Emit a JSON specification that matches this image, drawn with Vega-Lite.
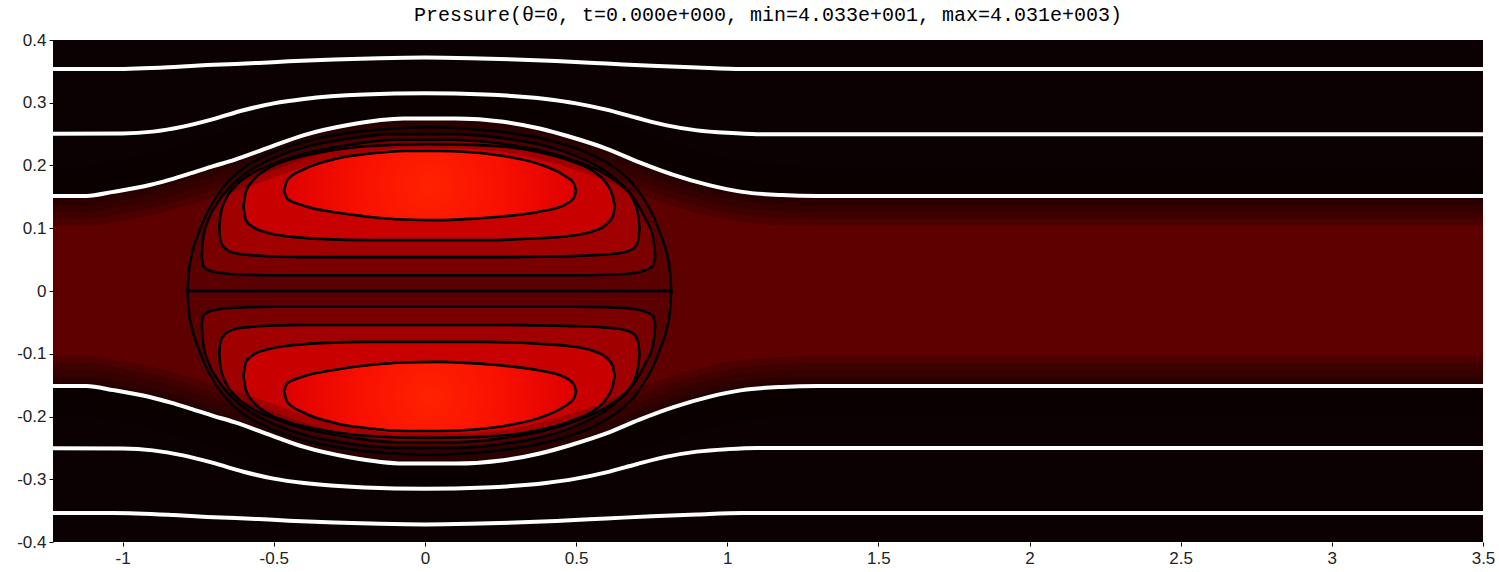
{
 "$schema": "https://vega.github.io/schema/vega-lite/v6.json",
 "width": 1430, "height": 502,
 "autosize": {"type": "none"},
 "padding": {"left": 53, "top": 40, "right": 16, "bottom": 30},
 "background": "white",
 "title": {"text": "Pressure(θ=0, t=0.000e+000, min=4.033e+001, max=4.031e+003)", "font": "Liberation Mono", "fontSize": 20, "fontWeight": "normal", "color": "#000", "offset": 6, "anchor": "middle"},
 "config": {
  "view": {"fill": "#0b0002", "stroke": null},
  "axis": {"grid": false, "domain": false, "ticks": true, "tickColor": "#000", "tickSize": 4, "labelFont": "Liberation Sans", "labelFontSize": 17, "labelColor": "#222"}
 },
 "datasets": {
  "band": [
   {"x": -1.4, "t": 0.1512, "b": -0.1512}, {"x": -1.12, "t": 0.1515, "b": -0.1515}, {"x": -1.03, "t": 0.158, "b": -0.158},
   {"x": -0.91, "t": 0.169, "b": -0.169}, {"x": -0.84, "t": 0.178, "b": -0.178}, {"x": -0.776, "t": 0.1874, "b": -0.1874},
   {"x": -0.7, "t": 0.199, "b": -0.199}, {"x": -0.63, "t": 0.209, "b": -0.209}, {"x": -0.52, "t": 0.228, "b": -0.228},
   {"x": -0.4, "t": 0.2485, "b": -0.2485}, {"x": -0.25, "t": 0.265, "b": -0.265}, {"x": -0.07, "t": 0.275, "b": -0.275},
   {"x": 0.1, "t": 0.275, "b": -0.275}, {"x": 0.26, "t": 0.2697, "b": -0.2697}, {"x": 0.38, "t": 0.259, "b": -0.259},
   {"x": 0.48, "t": 0.2458, "b": -0.2458}, {"x": 0.6, "t": 0.227, "b": -0.227}, {"x": 0.71, "t": 0.205, "b": -0.205},
   {"x": 0.82, "t": 0.1855, "b": -0.1855}, {"x": 0.94, "t": 0.1687, "b": -0.1687}, {"x": 1.05, "t": 0.158, "b": -0.158},
   {"x": 1.18, "t": 0.1528, "b": -0.1528}, {"x": 1.3, "t": 0.1512, "b": -0.1512}, {"x": 3.7, "t": 0.1512, "b": -0.1512}
  ],
  "stream": [
   {"id": "u1", "x": -1.4, "y": 0.3537}, {"id": "u1", "x": -1.03, "y": 0.3537}, {"id": "u1", "x": -0.83, "y": 0.357}, {"id": "u1", "x": -0.72, "y": 0.36},
   {"id": "u1", "x": -0.55, "y": 0.3635}, {"id": "u1", "x": -0.45, "y": 0.366}, {"id": "u1", "x": -0.3, "y": 0.369}, {"id": "u1", "x": -0.15, "y": 0.371},
   {"id": "u1", "x": 0, "y": 0.372}, {"id": "u1", "x": 0.15, "y": 0.371}, {"id": "u1", "x": 0.3, "y": 0.369}, {"id": "u1", "x": 0.45, "y": 0.366},
   {"id": "u1", "x": 0.6, "y": 0.3625}, {"id": "u1", "x": 0.75, "y": 0.359}, {"id": "u1", "x": 0.9, "y": 0.356}, {"id": "u1", "x": 1.05, "y": 0.3537}, {"id": "u1", "x": 3.7, "y": 0.3537},
   {"id": "u2", "x": -1.4, "y": 0.25}, {"id": "u2", "x": -1.0, "y": 0.251}, {"id": "u2", "x": -0.9, "y": 0.254}, {"id": "u2", "x": -0.8, "y": 0.262},
   {"id": "u2", "x": -0.7, "y": 0.274}, {"id": "u2", "x": -0.6, "y": 0.288}, {"id": "u2", "x": -0.5, "y": 0.299}, {"id": "u2", "x": -0.4, "y": 0.306},
   {"id": "u2", "x": -0.2, "y": 0.313}, {"id": "u2", "x": 0, "y": 0.315}, {"id": "u2", "x": 0.2, "y": 0.313}, {"id": "u2", "x": 0.4, "y": 0.306},
   {"id": "u2", "x": 0.5, "y": 0.299}, {"id": "u2", "x": 0.6, "y": 0.289}, {"id": "u2", "x": 0.7, "y": 0.276}, {"id": "u2", "x": 0.8, "y": 0.264},
   {"id": "u2", "x": 0.9, "y": 0.256}, {"id": "u2", "x": 1.0, "y": 0.252}, {"id": "u2", "x": 1.1, "y": 0.25}, {"id": "u2", "x": 3.7, "y": 0.25},
   {"id": "u3", "x": -1.4, "y": 0.1512}, {"id": "u3", "x": -1.12, "y": 0.1515}, {"id": "u3", "x": -1.03, "y": 0.158}, {"id": "u3", "x": -0.91, "y": 0.169},
   {"id": "u3", "x": -0.84, "y": 0.178}, {"id": "u3", "x": -0.776, "y": 0.1874}, {"id": "u3", "x": -0.7, "y": 0.199}, {"id": "u3", "x": -0.63, "y": 0.209},
   {"id": "u3", "x": -0.52, "y": 0.228}, {"id": "u3", "x": -0.4, "y": 0.2485}, {"id": "u3", "x": -0.25, "y": 0.265}, {"id": "u3", "x": -0.07, "y": 0.275},
   {"id": "u3", "x": 0.1, "y": 0.275}, {"id": "u3", "x": 0.26, "y": 0.2697}, {"id": "u3", "x": 0.38, "y": 0.259}, {"id": "u3", "x": 0.48, "y": 0.2458},
   {"id": "u3", "x": 0.6, "y": 0.227}, {"id": "u3", "x": 0.71, "y": 0.205}, {"id": "u3", "x": 0.82, "y": 0.1855}, {"id": "u3", "x": 0.94, "y": 0.1687},
   {"id": "u3", "x": 1.05, "y": 0.158}, {"id": "u3", "x": 1.18, "y": 0.1528}, {"id": "u3", "x": 1.3, "y": 0.1512}, {"id": "u3", "x": 3.7, "y": 0.1512},
   {"id": "l1", "x": -1.4, "y": -0.3537}, {"id": "l1", "x": -1.03, "y": -0.3537}, {"id": "l1", "x": -0.83, "y": -0.357}, {"id": "l1", "x": -0.72, "y": -0.36},
   {"id": "l1", "x": -0.55, "y": -0.3635}, {"id": "l1", "x": -0.45, "y": -0.366}, {"id": "l1", "x": -0.3, "y": -0.369}, {"id": "l1", "x": -0.15, "y": -0.371},
   {"id": "l1", "x": 0, "y": -0.372}, {"id": "l1", "x": 0.15, "y": -0.371}, {"id": "l1", "x": 0.3, "y": -0.369}, {"id": "l1", "x": 0.45, "y": -0.366},
   {"id": "l1", "x": 0.6, "y": -0.3625}, {"id": "l1", "x": 0.75, "y": -0.359}, {"id": "l1", "x": 0.9, "y": -0.356}, {"id": "l1", "x": 1.05, "y": -0.3537}, {"id": "l1", "x": 3.7, "y": -0.3537},
   {"id": "l2", "x": -1.4, "y": -0.25}, {"id": "l2", "x": -1.0, "y": -0.251}, {"id": "l2", "x": -0.9, "y": -0.254}, {"id": "l2", "x": -0.8, "y": -0.262},
   {"id": "l2", "x": -0.7, "y": -0.274}, {"id": "l2", "x": -0.6, "y": -0.288}, {"id": "l2", "x": -0.5, "y": -0.299}, {"id": "l2", "x": -0.4, "y": -0.306},
   {"id": "l2", "x": -0.2, "y": -0.313}, {"id": "l2", "x": 0, "y": -0.315}, {"id": "l2", "x": 0.2, "y": -0.313}, {"id": "l2", "x": 0.4, "y": -0.306},
   {"id": "l2", "x": 0.5, "y": -0.299}, {"id": "l2", "x": 0.6, "y": -0.289}, {"id": "l2", "x": 0.7, "y": -0.276}, {"id": "l2", "x": 0.8, "y": -0.264},
   {"id": "l2", "x": 0.9, "y": -0.256}, {"id": "l2", "x": 1.0, "y": -0.252}, {"id": "l2", "x": 1.1, "y": -0.25}, {"id": "l2", "x": 3.7, "y": -0.25},
   {"id": "l3", "x": -1.4, "y": -0.1512}, {"id": "l3", "x": -1.12, "y": -0.1515}, {"id": "l3", "x": -1.03, "y": -0.158}, {"id": "l3", "x": -0.91, "y": -0.169},
   {"id": "l3", "x": -0.84, "y": -0.178}, {"id": "l3", "x": -0.776, "y": -0.1874}, {"id": "l3", "x": -0.7, "y": -0.199}, {"id": "l3", "x": -0.63, "y": -0.209},
   {"id": "l3", "x": -0.52, "y": -0.228}, {"id": "l3", "x": -0.4, "y": -0.2485}, {"id": "l3", "x": -0.25, "y": -0.265}, {"id": "l3", "x": -0.07, "y": -0.275},
   {"id": "l3", "x": 0.1, "y": -0.275}, {"id": "l3", "x": 0.26, "y": -0.2697}, {"id": "l3", "x": 0.38, "y": -0.259}, {"id": "l3", "x": 0.48, "y": -0.2458},
   {"id": "l3", "x": 0.6, "y": -0.227}, {"id": "l3", "x": 0.71, "y": -0.205}, {"id": "l3", "x": 0.82, "y": -0.1855}, {"id": "l3", "x": 0.94, "y": -0.1687},
   {"id": "l3", "x": 1.05, "y": -0.158}, {"id": "l3", "x": 1.18, "y": -0.1528}, {"id": "l3", "x": 1.3, "y": -0.1512}, {"id": "l3", "x": 3.7, "y": -0.1512}
  ],
  "drop": [
   {"lev": 0, "h": "U", "x": -0.785, "t": 0, "b": 0}, {"lev": 0, "h": "U", "x": -0.781, "t": 0.03, "b": 0}, {"lev": 0, "h": "U", "x": -0.77, "t": 0.06, "b": 0},
   {"lev": 0, "h": "U", "x": -0.75, "t": 0.09, "b": 0}, {"lev": 0, "h": "U", "x": -0.725, "t": 0.12, "b": 0}, {"lev": 0, "h": "U", "x": -0.69, "t": 0.15, "b": 0},
   {"lev": 0, "h": "U", "x": -0.65, "t": 0.175, "b": 0}, {"lev": 0, "h": "U", "x": -0.6, "t": 0.196, "b": 0}, {"lev": 0, "h": "U", "x": -0.5, "t": 0.222, "b": 0},
   {"lev": 0, "h": "U", "x": -0.4, "t": 0.238, "b": 0}, {"lev": 0, "h": "U", "x": -0.25, "t": 0.252, "b": 0}, {"lev": 0, "h": "U", "x": -0.1, "t": 0.259, "b": 0},
   {"lev": 0, "h": "U", "x": 0.015, "t": 0.261, "b": 0}, {"lev": 0, "h": "U", "x": 0.13, "t": 0.259, "b": 0}, {"lev": 0, "h": "U", "x": 0.28, "t": 0.252, "b": 0},
   {"lev": 0, "h": "U", "x": 0.43, "t": 0.238, "b": 0}, {"lev": 0, "h": "U", "x": 0.53, "t": 0.222, "b": 0}, {"lev": 0, "h": "U", "x": 0.63, "t": 0.196, "b": 0},
   {"lev": 0, "h": "U", "x": 0.68, "t": 0.175, "b": 0}, {"lev": 0, "h": "U", "x": 0.72, "t": 0.15, "b": 0}, {"lev": 0, "h": "U", "x": 0.755, "t": 0.12, "b": 0},
   {"lev": 0, "h": "U", "x": 0.78, "t": 0.09, "b": 0}, {"lev": 0, "h": "U", "x": 0.8, "t": 0.06, "b": 0}, {"lev": 0, "h": "U", "x": 0.811, "t": 0.03, "b": 0},
   {"lev": 0, "h": "U", "x": 0.815, "t": 0, "b": 0},
   {"lev": 0, "h": "L", "x": -0.785, "t": 0, "b": 0}, {"lev": 0, "h": "L", "x": -0.781, "t": 0, "b": -0.03}, {"lev": 0, "h": "L", "x": -0.77, "t": 0, "b": -0.06},
   {"lev": 0, "h": "L", "x": -0.75, "t": 0, "b": -0.09}, {"lev": 0, "h": "L", "x": -0.725, "t": 0, "b": -0.12}, {"lev": 0, "h": "L", "x": -0.69, "t": 0, "b": -0.15},
   {"lev": 0, "h": "L", "x": -0.65, "t": 0, "b": -0.175}, {"lev": 0, "h": "L", "x": -0.6, "t": 0, "b": -0.196}, {"lev": 0, "h": "L", "x": -0.5, "t": 0, "b": -0.222},
   {"lev": 0, "h": "L", "x": -0.4, "t": 0, "b": -0.238}, {"lev": 0, "h": "L", "x": -0.25, "t": 0, "b": -0.252}, {"lev": 0, "h": "L", "x": -0.1, "t": 0, "b": -0.259},
   {"lev": 0, "h": "L", "x": 0.015, "t": 0, "b": -0.261}, {"lev": 0, "h": "L", "x": 0.13, "t": 0, "b": -0.259}, {"lev": 0, "h": "L", "x": 0.28, "t": 0, "b": -0.252},
   {"lev": 0, "h": "L", "x": 0.43, "t": 0, "b": -0.238}, {"lev": 0, "h": "L", "x": 0.53, "t": 0, "b": -0.222}, {"lev": 0, "h": "L", "x": 0.63, "t": 0, "b": -0.196},
   {"lev": 0, "h": "L", "x": 0.68, "t": 0, "b": -0.175}, {"lev": 0, "h": "L", "x": 0.72, "t": 0, "b": -0.15}, {"lev": 0, "h": "L", "x": 0.755, "t": 0, "b": -0.12},
   {"lev": 0, "h": "L", "x": 0.78, "t": 0, "b": -0.09}, {"lev": 0, "h": "L", "x": 0.8, "t": 0, "b": -0.06}, {"lev": 0, "h": "L", "x": 0.811, "t": 0, "b": -0.03},
   {"lev": 0, "h": "L", "x": 0.815, "t": 0, "b": 0},

   {"lev": 4, "h": "U", "x": -0.738, "t": 0.055, "b": 0.055}, {"lev": 4, "h": "U", "x": -0.733, "t": 0.085, "b": 0.04}, {"lev": 4, "h": "U", "x": -0.715, "t": 0.115, "b": 0.033},
   {"lev": 4, "h": "U", "x": -0.68, "t": 0.145, "b": 0.029}, {"lev": 4, "h": "U", "x": -0.64, "t": 0.168, "b": 0.027}, {"lev": 4, "h": "U", "x": -0.585, "t": 0.19, "b": 0.026},
   {"lev": 4, "h": "U", "x": -0.5, "t": 0.212, "b": 0.025}, {"lev": 4, "h": "U", "x": -0.4, "t": 0.229, "b": 0.025}, {"lev": 4, "h": "U", "x": -0.25, "t": 0.243, "b": 0.025},
   {"lev": 4, "h": "U", "x": -0.1, "t": 0.25, "b": 0.025}, {"lev": 4, "h": "U", "x": 0.1, "t": 0.25, "b": 0.025}, {"lev": 4, "h": "U", "x": 0.25, "t": 0.244, "b": 0.025},
   {"lev": 4, "h": "U", "x": 0.4, "t": 0.231, "b": 0.025}, {"lev": 4, "h": "U", "x": 0.5, "t": 0.215, "b": 0.025}, {"lev": 4, "h": "U", "x": 0.6, "t": 0.19, "b": 0.026},
   {"lev": 4, "h": "U", "x": 0.655, "t": 0.168, "b": 0.027}, {"lev": 4, "h": "U", "x": 0.695, "t": 0.145, "b": 0.029}, {"lev": 4, "h": "U", "x": 0.73, "t": 0.115, "b": 0.033},
   {"lev": 4, "h": "U", "x": 0.755, "t": 0.085, "b": 0.04}, {"lev": 4, "h": "U", "x": 0.762, "t": 0.055, "b": 0.055},
   {"lev": 4, "h": "L", "x": -0.738, "t": -0.055, "b": -0.055}, {"lev": 4, "h": "L", "x": -0.733, "t": -0.04, "b": -0.085}, {"lev": 4, "h": "L", "x": -0.715, "t": -0.033, "b": -0.115},
   {"lev": 4, "h": "L", "x": -0.68, "t": -0.029, "b": -0.145}, {"lev": 4, "h": "L", "x": -0.64, "t": -0.027, "b": -0.168}, {"lev": 4, "h": "L", "x": -0.585, "t": -0.026, "b": -0.19},
   {"lev": 4, "h": "L", "x": -0.5, "t": -0.025, "b": -0.212}, {"lev": 4, "h": "L", "x": -0.4, "t": -0.025, "b": -0.229}, {"lev": 4, "h": "L", "x": -0.25, "t": -0.025, "b": -0.243},
   {"lev": 4, "h": "L", "x": -0.1, "t": -0.025, "b": -0.25}, {"lev": 4, "h": "L", "x": 0.1, "t": -0.025, "b": -0.25}, {"lev": 4, "h": "L", "x": 0.25, "t": -0.025, "b": -0.244},
   {"lev": 4, "h": "L", "x": 0.4, "t": -0.025, "b": -0.231}, {"lev": 4, "h": "L", "x": 0.5, "t": -0.025, "b": -0.215}, {"lev": 4, "h": "L", "x": 0.6, "t": -0.026, "b": -0.19},
   {"lev": 4, "h": "L", "x": 0.655, "t": -0.027, "b": -0.168}, {"lev": 4, "h": "L", "x": 0.695, "t": -0.029, "b": -0.145}, {"lev": 4, "h": "L", "x": 0.73, "t": -0.033, "b": -0.115},
   {"lev": 4, "h": "L", "x": 0.755, "t": -0.04, "b": -0.085}, {"lev": 4, "h": "L", "x": 0.762, "t": -0.055, "b": -0.055},

   {"lev": 3, "h": "U", "x": -0.68, "t": 0.1, "b": 0.1}, {"lev": 3, "h": "U", "x": -0.676, "t": 0.122, "b": 0.08}, {"lev": 3, "h": "U", "x": -0.66, "t": 0.145, "b": 0.068},
   {"lev": 3, "h": "U", "x": -0.625, "t": 0.168, "b": 0.06}, {"lev": 3, "h": "U", "x": -0.57, "t": 0.188, "b": 0.057}, {"lev": 3, "h": "U", "x": -0.5, "t": 0.203, "b": 0.055},
   {"lev": 3, "h": "U", "x": -0.4, "t": 0.219, "b": 0.054}, {"lev": 3, "h": "U", "x": -0.25, "t": 0.233, "b": 0.054}, {"lev": 3, "h": "U", "x": -0.1, "t": 0.241, "b": 0.054},
   {"lev": 3, "h": "U", "x": 0.1, "t": 0.241, "b": 0.054}, {"lev": 3, "h": "U", "x": 0.25, "t": 0.235, "b": 0.054}, {"lev": 3, "h": "U", "x": 0.4, "t": 0.222, "b": 0.055},
   {"lev": 3, "h": "U", "x": 0.5, "t": 0.207, "b": 0.056}, {"lev": 3, "h": "U", "x": 0.59, "t": 0.188, "b": 0.058}, {"lev": 3, "h": "U", "x": 0.65, "t": 0.168, "b": 0.061},
   {"lev": 3, "h": "U", "x": 0.69, "t": 0.145, "b": 0.068}, {"lev": 3, "h": "U", "x": 0.705, "t": 0.122, "b": 0.08}, {"lev": 3, "h": "U", "x": 0.71, "t": 0.1, "b": 0.1},
   {"lev": 3, "h": "L", "x": -0.68, "t": -0.1, "b": -0.1}, {"lev": 3, "h": "L", "x": -0.676, "t": -0.08, "b": -0.122}, {"lev": 3, "h": "L", "x": -0.66, "t": -0.068, "b": -0.145},
   {"lev": 3, "h": "L", "x": -0.625, "t": -0.06, "b": -0.168}, {"lev": 3, "h": "L", "x": -0.57, "t": -0.057, "b": -0.188}, {"lev": 3, "h": "L", "x": -0.5, "t": -0.055, "b": -0.203},
   {"lev": 3, "h": "L", "x": -0.4, "t": -0.054, "b": -0.219}, {"lev": 3, "h": "L", "x": -0.25, "t": -0.054, "b": -0.233}, {"lev": 3, "h": "L", "x": -0.1, "t": -0.054, "b": -0.241},
   {"lev": 3, "h": "L", "x": 0.1, "t": -0.054, "b": -0.241}, {"lev": 3, "h": "L", "x": 0.25, "t": -0.054, "b": -0.235}, {"lev": 3, "h": "L", "x": 0.4, "t": -0.055, "b": -0.222},
   {"lev": 3, "h": "L", "x": 0.5, "t": -0.056, "b": -0.207}, {"lev": 3, "h": "L", "x": 0.59, "t": -0.058, "b": -0.188}, {"lev": 3, "h": "L", "x": 0.65, "t": -0.061, "b": -0.168},
   {"lev": 3, "h": "L", "x": 0.69, "t": -0.068, "b": -0.145}, {"lev": 3, "h": "L", "x": 0.705, "t": -0.08, "b": -0.122}, {"lev": 3, "h": "L", "x": 0.71, "t": -0.1, "b": -0.1},

   {"lev": 2, "h": "U", "x": -0.6, "t": 0.135, "b": 0.135}, {"lev": 2, "h": "U", "x": -0.592, "t": 0.158, "b": 0.113}, {"lev": 2, "h": "U", "x": -0.565, "t": 0.178, "b": 0.101},
   {"lev": 2, "h": "U", "x": -0.52, "t": 0.195, "b": 0.093}, {"lev": 2, "h": "U", "x": -0.45, "t": 0.209, "b": 0.087}, {"lev": 2, "h": "U", "x": -0.345, "t": 0.221, "b": 0.083},
   {"lev": 2, "h": "U", "x": -0.18, "t": 0.231, "b": 0.081}, {"lev": 2, "h": "U", "x": 0, "t": 0.234, "b": 0.081}, {"lev": 2, "h": "U", "x": 0.2, "t": 0.232, "b": 0.081},
   {"lev": 2, "h": "U", "x": 0.373, "t": 0.222, "b": 0.084}, {"lev": 2, "h": "U", "x": 0.483, "t": 0.207, "b": 0.088}, {"lev": 2, "h": "U", "x": 0.56, "t": 0.19, "b": 0.096},
   {"lev": 2, "h": "U", "x": 0.6, "t": 0.172, "b": 0.106}, {"lev": 2, "h": "U", "x": 0.622, "t": 0.15, "b": 0.12}, {"lev": 2, "h": "U", "x": 0.628, "t": 0.135, "b": 0.135},
   {"lev": 2, "h": "L", "x": -0.6, "t": -0.135, "b": -0.135}, {"lev": 2, "h": "L", "x": -0.592, "t": -0.113, "b": -0.158}, {"lev": 2, "h": "L", "x": -0.565, "t": -0.101, "b": -0.178},
   {"lev": 2, "h": "L", "x": -0.52, "t": -0.093, "b": -0.195}, {"lev": 2, "h": "L", "x": -0.45, "t": -0.087, "b": -0.209}, {"lev": 2, "h": "L", "x": -0.345, "t": -0.083, "b": -0.221},
   {"lev": 2, "h": "L", "x": -0.18, "t": -0.081, "b": -0.231}, {"lev": 2, "h": "L", "x": 0, "t": -0.081, "b": -0.234}, {"lev": 2, "h": "L", "x": 0.2, "t": -0.081, "b": -0.232},
   {"lev": 2, "h": "L", "x": 0.373, "t": -0.084, "b": -0.222}, {"lev": 2, "h": "L", "x": 0.483, "t": -0.088, "b": -0.207}, {"lev": 2, "h": "L", "x": 0.56, "t": -0.096, "b": -0.19},
   {"lev": 2, "h": "L", "x": 0.6, "t": -0.106, "b": -0.172}, {"lev": 2, "h": "L", "x": 0.622, "t": -0.12, "b": -0.15}, {"lev": 2, "h": "L", "x": 0.628, "t": -0.135, "b": -0.135},

   {"lev": 1, "h": "U", "x": -0.466, "t": 0.16, "b": 0.16}, {"lev": 1, "h": "U", "x": -0.455, "t": 0.177, "b": 0.147}, {"lev": 1, "h": "U", "x": -0.4, "t": 0.194, "b": 0.136},
   {"lev": 1, "h": "U", "x": -0.29, "t": 0.211, "b": 0.125}, {"lev": 1, "h": "U", "x": -0.18, "t": 0.219, "b": 0.118}, {"lev": 1, "h": "U", "x": -0.069, "t": 0.223, "b": 0.114},
   {"lev": 1, "h": "U", "x": 0.041, "t": 0.223, "b": 0.113}, {"lev": 1, "h": "U", "x": 0.152, "t": 0.221, "b": 0.115}, {"lev": 1, "h": "U", "x": 0.262, "t": 0.215, "b": 0.119},
   {"lev": 1, "h": "U", "x": 0.373, "t": 0.203, "b": 0.126}, {"lev": 1, "h": "U", "x": 0.461, "t": 0.184, "b": 0.137}, {"lev": 1, "h": "U", "x": 0.492, "t": 0.172, "b": 0.148},
   {"lev": 1, "h": "U", "x": 0.5, "t": 0.16, "b": 0.16},
   {"lev": 1, "h": "L", "x": -0.466, "t": -0.16, "b": -0.16}, {"lev": 1, "h": "L", "x": -0.455, "t": -0.147, "b": -0.177}, {"lev": 1, "h": "L", "x": -0.4, "t": -0.136, "b": -0.194},
   {"lev": 1, "h": "L", "x": -0.29, "t": -0.125, "b": -0.211}, {"lev": 1, "h": "L", "x": -0.18, "t": -0.118, "b": -0.219}, {"lev": 1, "h": "L", "x": -0.069, "t": -0.114, "b": -0.223},
   {"lev": 1, "h": "L", "x": 0.041, "t": -0.113, "b": -0.223}, {"lev": 1, "h": "L", "x": 0.152, "t": -0.115, "b": -0.221}, {"lev": 1, "h": "L", "x": 0.262, "t": -0.119, "b": -0.215},
   {"lev": 1, "h": "L", "x": 0.373, "t": -0.126, "b": -0.203}, {"lev": 1, "h": "L", "x": 0.461, "t": -0.137, "b": -0.184}, {"lev": 1, "h": "L", "x": 0.492, "t": -0.148, "b": -0.172},
   {"lev": 1, "h": "L", "x": 0.5, "t": -0.16, "b": -0.16}
  ]
 },
 "layer": [
  {"data": {"name": "band"}, "mark": {"type": "area", "fill": "#5e0000", "interpolate": "monotone", "clip": true},
   "encoding": {
    "x": {"field": "x", "type": "quantitative", "title": null, "scale": {"domain": [-1.23, 3.5], "nice": false, "zero": false},
          "axis": {"values": [-1, -0.5, 0, 0.5, 1, 1.5, 2, 2.5, 3, 3.5], "labelExpr": "toString(round(datum.value*10)/10)", "labelPadding": 4, "labelFlush": false}},
    "y": {"field": "t", "type": "quantitative", "title": null, "stack": null, "scale": {"domain": [-0.4, 0.4], "nice": false, "zero": false},
          "axis": {"values": [-0.4, -0.3, -0.2, -0.1, 0, 0.1, 0.2, 0.3, 0.4], "labelExpr": "toString(round(datum.value*10)/10)", "labelPadding": 3, "labelFlush": false}},
    "y2": {"field": "b"}}},
  {"data": {"name": "drop"}, "transform": [{"filter": "datum.lev == 0"}], "mark": {"type": "area", "fill": "#5a0000", "interpolate": "monotone", "clip": true},
   "encoding": {"x": {"field": "x", "type": "quantitative", "title": null}, "y": {"field": "t", "type": "quantitative", "title": null, "stack": null}, "y2": {"field": "b"}, "detail": {"field": "h"}}},
  {"data": {"name": "drop"}, "transform": [{"filter": "datum.lev == 4"}], "mark": {"type": "area", "fill": "#7a0000", "interpolate": "monotone", "clip": true},
   "encoding": {"x": {"field": "x", "type": "quantitative", "title": null}, "y": {"field": "t", "type": "quantitative", "title": null, "stack": null}, "y2": {"field": "b"}, "detail": {"field": "h"}}},
  {"data": {"name": "drop"}, "transform": [{"filter": "datum.lev == 3"}], "mark": {"type": "area", "fill": "#a00000", "interpolate": "monotone", "clip": true},
   "encoding": {"x": {"field": "x", "type": "quantitative", "title": null}, "y": {"field": "t", "type": "quantitative", "title": null, "stack": null}, "y2": {"field": "b"}, "detail": {"field": "h"}}},
  {"data": {"name": "drop"}, "transform": [{"filter": "datum.lev == 2"}], "mark": {"type": "area", "fill": "#c80000", "interpolate": "monotone", "clip": true},
   "encoding": {"x": {"field": "x", "type": "quantitative", "title": null}, "y": {"field": "t", "type": "quantitative", "title": null, "stack": null}, "y2": {"field": "b"}, "detail": {"field": "h"}}},
  {"data": {"name": "drop"}, "transform": [{"filter": "datum.lev == 1"}],
   "mark": {"type": "area", "interpolate": "monotone", "clip": true,
            "fill": {"gradient": "radial", "x1": 0.5, "y1": 0.5, "r1": 0, "x2": 0.5, "y2": 0.5, "r2": 0.5,
                     "stops": [{"offset": 0, "color": "#ff2200"}, {"offset": 0.5, "color": "#f81000"}, {"offset": 1, "color": "#dd0000"}]}},
   "encoding": {"x": {"field": "x", "type": "quantitative", "title": null}, "y": {"field": "t", "type": "quantitative", "title": null, "stack": null}, "y2": {"field": "b"}, "detail": {"field": "h"}}},

  {"data": {"name": "band"}, "mark": {"type": "area", "fill": "#0b0002", "interpolate": "monotone", "clip": true},
   "encoding": {"x": {"field": "x", "type": "quantitative", "title": null}, "y": {"field": "t", "type": "quantitative", "title": null, "stack": null}, "y2": {"datum": 0.5}}},
  {"data": {"name": "band"}, "mark": {"type": "area", "fill": "#0b0002", "interpolate": "monotone", "clip": true},
   "encoding": {"x": {"field": "x", "type": "quantitative", "title": null}, "y": {"field": "b", "type": "quantitative", "title": null, "stack": null}, "y2": {"datum": -0.5}}},
  {"data": {"name": "band"}, "mark": {"type": "area", "fillOpacity": 0, "stroke": "#0b0002", "strokeOpacity": 0.2, "strokeWidth": 60, "interpolate": "monotone", "clip": true},
   "encoding": {"x": {"field": "x", "type": "quantitative", "title": null}, "y": {"field": "t", "type": "quantitative", "title": null, "stack": null}, "y2": {"datum": 0.5}}},
  {"data": {"name": "band"}, "mark": {"type": "area", "fillOpacity": 0, "stroke": "#0b0002", "strokeOpacity": 0.2, "strokeWidth": 46, "interpolate": "monotone", "clip": true},
   "encoding": {"x": {"field": "x", "type": "quantitative", "title": null}, "y": {"field": "t", "type": "quantitative", "title": null, "stack": null}, "y2": {"datum": 0.5}}},
  {"data": {"name": "band"}, "mark": {"type": "area", "fillOpacity": 0, "stroke": "#0b0002", "strokeOpacity": 0.2, "strokeWidth": 32, "interpolate": "monotone", "clip": true},
   "encoding": {"x": {"field": "x", "type": "quantitative", "title": null}, "y": {"field": "t", "type": "quantitative", "title": null, "stack": null}, "y2": {"datum": 0.5}}},
  {"data": {"name": "band"}, "mark": {"type": "area", "fillOpacity": 0, "stroke": "#0b0002", "strokeOpacity": 0.2, "strokeWidth": 18, "interpolate": "monotone", "clip": true},
   "encoding": {"x": {"field": "x", "type": "quantitative", "title": null}, "y": {"field": "t", "type": "quantitative", "title": null, "stack": null}, "y2": {"datum": 0.5}}},
  {"data": {"name": "band"}, "mark": {"type": "area", "fillOpacity": 0, "stroke": "#0b0002", "strokeOpacity": 0.2, "strokeWidth": 8, "interpolate": "monotone", "clip": true},
   "encoding": {"x": {"field": "x", "type": "quantitative", "title": null}, "y": {"field": "t", "type": "quantitative", "title": null, "stack": null}, "y2": {"datum": 0.5}}},
  {"data": {"name": "band"}, "mark": {"type": "area", "fillOpacity": 0, "stroke": "#0b0002", "strokeOpacity": 0.2, "strokeWidth": 60, "interpolate": "monotone", "clip": true},
   "encoding": {"x": {"field": "x", "type": "quantitative", "title": null}, "y": {"field": "b", "type": "quantitative", "title": null, "stack": null}, "y2": {"datum": -0.5}}},
  {"data": {"name": "band"}, "mark": {"type": "area", "fillOpacity": 0, "stroke": "#0b0002", "strokeOpacity": 0.2, "strokeWidth": 46, "interpolate": "monotone", "clip": true},
   "encoding": {"x": {"field": "x", "type": "quantitative", "title": null}, "y": {"field": "b", "type": "quantitative", "title": null, "stack": null}, "y2": {"datum": -0.5}}},
  {"data": {"name": "band"}, "mark": {"type": "area", "fillOpacity": 0, "stroke": "#0b0002", "strokeOpacity": 0.2, "strokeWidth": 32, "interpolate": "monotone", "clip": true},
   "encoding": {"x": {"field": "x", "type": "quantitative", "title": null}, "y": {"field": "b", "type": "quantitative", "title": null, "stack": null}, "y2": {"datum": -0.5}}},
  {"data": {"name": "band"}, "mark": {"type": "area", "fillOpacity": 0, "stroke": "#0b0002", "strokeOpacity": 0.2, "strokeWidth": 18, "interpolate": "monotone", "clip": true},
   "encoding": {"x": {"field": "x", "type": "quantitative", "title": null}, "y": {"field": "b", "type": "quantitative", "title": null, "stack": null}, "y2": {"datum": -0.5}}},
  {"data": {"name": "band"}, "mark": {"type": "area", "fillOpacity": 0, "stroke": "#0b0002", "strokeOpacity": 0.2, "strokeWidth": 8, "interpolate": "monotone", "clip": true},
   "encoding": {"x": {"field": "x", "type": "quantitative", "title": null}, "y": {"field": "b", "type": "quantitative", "title": null, "stack": null}, "y2": {"datum": -0.5}}},

  {"data": {"name": "drop"}, "mark": {"type": "area", "fillOpacity": 0, "stroke": "#000000", "strokeWidth": 2.6, "interpolate": "monotone", "clip": true},
   "encoding": {"x": {"field": "x", "type": "quantitative", "title": null}, "y": {"field": "t", "type": "quantitative", "title": null, "stack": null}, "y2": {"field": "b"}, "detail": [{"field": "lev"}, {"field": "h"}]}},
  {"data": {"name": "stream"}, "mark": {"type": "line", "stroke": "#ffffff", "strokeWidth": 4, "interpolate": "monotone", "clip": true},
   "encoding": {"x": {"field": "x", "type": "quantitative", "title": null}, "y": {"field": "y", "type": "quantitative", "title": null}, "detail": {"field": "id"}}}
 ]
}
